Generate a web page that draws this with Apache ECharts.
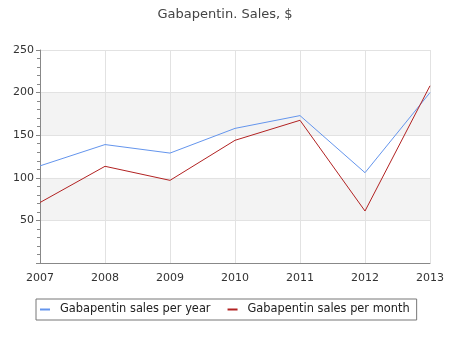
<!DOCTYPE html>
<html>
<head>
<meta charset="utf-8">
<script src="https://cdn.jsdelivr.net/npm/echarts@6/dist/echarts.min.js"></script>
<style>
html,body{margin:0;padding:0;background:#fff;}
#chart{width:450px;height:350px;}
</style>
</head>
<body>
<div id="chart"></div>
<script>
// Years on the category axis
var years = ['2007', '2008', '2009', '2010', '2011', '2012', '2013'];
// Yearly sales
var salesPerYear = [114, 139, 129, 158, 173, 106, 200];
// Monthly sales
var salesPerMonth = [71, 113.5, 97, 144, 167.5, 61, 208];

var chart = echarts.init(document.getElementById('chart'));
var font = 'DejaVu Sans';
chart.setOption({
  animation: false,
  textStyle: { fontFamily: font },
  title: {
    text: 'Gabapentin. Sales, $',
    left: 'center',
    top: 3,
    textStyle: { fontFamily: font, fontSize: 13, fontWeight: 'normal', color: '#444' }
  },
  grid: { left: 40, right: 20, top: 50, bottom: 87 },
  xAxis: {
    type: 'category',
    data: years,
    boundaryGap: false,
    axisLine: { lineStyle: { color: '#888' } },
    axisTick: { show: false },
    axisLabel: { color: '#333', fontSize: 11, margin: 10, fontFamily: font },
    splitLine: { show: true, lineStyle: { color: '#e2e2e2' } }
  },
  yAxis: {
    type: 'value',
    min: 0,
    max: 250,
    interval: 50,
    axisLine: { show: true, lineStyle: { color: '#888' } },
    axisTick: { show: true, length: 4, lineStyle: { color: '#888' } },
    minorTick: { show: true, splitNumber: 5, length: 3, lineStyle: { color: '#888' } },
    axisLabel: {
      color: '#333', fontSize: 11, margin: 6, fontFamily: font,
      formatter: function (v) { return v === 0 ? '' : v; }
    },
    splitLine: { show: true, lineStyle: { color: '#e2e2e2' } },
    splitArea: { show: true, areaStyle: { color: ['#ffffff', '#f3f3f3'] } }
  },
  legend: {
    bottom: 30,
    left: 36,
    itemWidth: 10,
    itemHeight: 2,
    itemGap: 17,
    icon: 'rect',
    borderColor: '#777',
    borderWidth: 1,
    padding: [5, 7, 5, 4],
    textStyle: { fontSize: 11.4, color: '#222', fontFamily: font, padding: [0, 0, 0, 5] },
    data: ['Gabapentin sales per year', 'Gabapentin sales per month']
  },
  series: [
    {
      name: 'Gabapentin sales per year',
      type: 'line',
      data: salesPerYear,
      symbol: 'none',
      lineStyle: { color: '#6495ed', width: 1 },
      itemStyle: { color: '#6495ed' }
    },
    {
      name: 'Gabapentin sales per month',
      type: 'line',
      data: salesPerMonth,
      symbol: 'none',
      lineStyle: { color: '#b22222', width: 1 },
      itemStyle: { color: '#b22222' }
    }
  ]
});
</script>
</body>
</html>
